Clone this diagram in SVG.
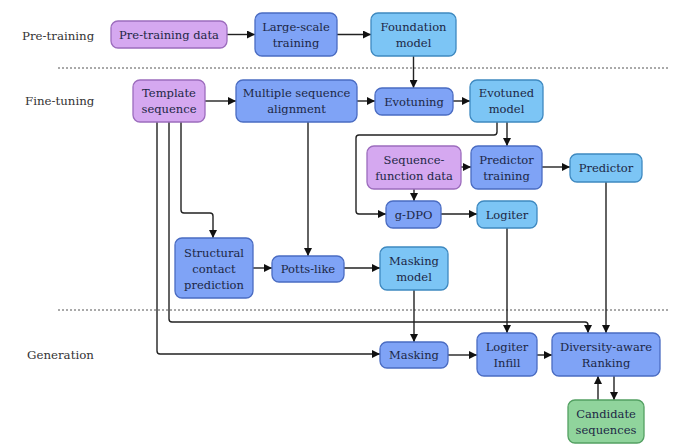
<svg xmlns="http://www.w3.org/2000/svg" width="680" height="445" viewBox="0 0 680 445">
<defs>
<marker id="ah" viewBox="0 0 10 10" refX="10" refY="5" markerWidth="9" markerHeight="8" markerUnits="userSpaceOnUse" orient="auto">
<path d="M0,0 L10,5 L0,10 z" fill="#111"/>
</marker>
<style>
rect { stroke-width: 1.3; }
.purple { fill: #d5a8f0; stroke: #9c6cbd; }
.blue { fill: #7fa3f6; stroke: #4a6cc2; }
.lblue { fill: #7cc5f5; stroke: #3e89c0; }
.green { fill: #90d49c; stroke: #53a062; }
.t { font-family: "DejaVu Serif", "Liberation Serif", serif; font-size: 11.5px; fill: #1c2745; text-anchor: middle; }
.lab { font-family: "DejaVu Serif", "Liberation Serif", serif; font-size: 11.8px; fill: #333; }
.c { fill: none; stroke: #222; stroke-width: 1.4; marker-end: url(#ah); }
.sep { stroke: #555; stroke-width: 1; stroke-dasharray: 2 2; }
</style>
</defs>
<rect width="680" height="445" fill="#fff"/>

<g id="labels">
<text class="lab" x="22" y="40">Pre-training</text>
<text class="lab" x="25" y="105">Fine-tuning</text>
<text class="lab" x="27" y="359">Generation</text>
<line class="sep" x1="58" y1="68" x2="670" y2="68"/>
<line class="sep" x1="58" y1="310" x2="670" y2="310"/>
</g>

<g id="connectors">
<path class="c" d="M227,34.5 H255"/>
<path class="c" d="M337,34.5 H371"/>
<path class="c" d="M413.5,56 V88"/>
<path class="c" d="M205,101 H236"/>
<path class="c" d="M357,101 H375"/>
<path class="c" d="M453,101 H470"/>
<path class="c" d="M507,122 V146"/>
<path class="c" d="M497,122 V132 Q497,135 494,135 H359 Q356,135 356,138 V211 Q356,214 359,214 H386"/>
<path class="c" d="M461,167 H471"/>
<path class="c" d="M414,189 V201"/>
<path class="c" d="M542,167 H570"/>
<path class="c" d="M441,214 H477"/>
<path class="c" d="M181,122 V210 Q181,213 184,213 H210 Q213,213 213,216 V238"/>
<path class="c" d="M308,122 V256"/>
<path class="c" d="M253,268 H272"/>
<path class="c" d="M344,268 H380"/>
<path class="c" d="M414,290 V342"/>
<path class="c" d="M169,122 V319 Q169,322 172,322 H585 Q588,322 588,325 V333"/>
<path class="c" d="M157,122 V351 Q157,354 160,354 H380"/>
<path class="c" d="M448,355 H477"/>
<path class="c" d="M507,228 V333"/>
<path class="c" d="M537,355 H552"/>
<path class="c" d="M606,182 V333"/>
<path class="c" d="M614,376 V400"/>
<path class="c" d="M598,400 V376"/>
</g>

<g id="pretrain_data"><rect class="purple" x="111" y="21" width="116" height="27" rx="7"/><text class="t" x="169" y="38.5">Pre-training data</text></g>
<g id="large_scale"><rect class="blue" x="255" y="13" width="82" height="43" rx="7"/><text class="t" x="296" y="31">Large-scale</text><text class="t" x="296" y="47">training</text></g>
<g id="foundation"><rect class="lblue" x="371" y="13" width="85" height="43" rx="7"/><text class="t" x="413.5" y="31">Foundation</text><text class="t" x="413.5" y="47">model</text></g>
<g id="template"><rect class="purple" x="133" y="80" width="72" height="42" rx="7"/><text class="t" x="169" y="97">Template</text><text class="t" x="169" y="113">sequence</text></g>
<g id="msa"><rect class="blue" x="236" y="80" width="121" height="42" rx="7"/><text class="t" x="296.5" y="97">Multiple sequence</text><text class="t" x="296.5" y="113">alignment</text></g>
<g id="evotuning"><rect class="blue" x="375" y="88" width="78" height="27" rx="7"/><text class="t" x="414" y="105.5">Evotuning</text></g>
<g id="evotuned"><rect class="lblue" x="470" y="80" width="73" height="42" rx="7"/><text class="t" x="506.5" y="97">Evotuned</text><text class="t" x="506.5" y="113">model</text></g>
<g id="seqfunc"><rect class="purple" x="367" y="146" width="94" height="43" rx="7"/><text class="t" x="414" y="164">Sequence-</text><text class="t" x="414" y="180">function data</text></g>
<g id="predtrain"><rect class="blue" x="471" y="146" width="71" height="43" rx="7"/><text class="t" x="506.5" y="164">Predictor</text><text class="t" x="506.5" y="180">training</text></g>
<g id="predictor"><rect class="lblue" x="570" y="154" width="72" height="28" rx="7"/><text class="t" x="606" y="172">Predictor</text></g>
<g id="gdpo"><rect class="blue" x="386" y="201" width="55" height="27" rx="7"/><text class="t" x="413.5" y="218.5">g-DPO</text></g>
<g id="logiter"><rect class="lblue" x="477" y="201" width="60" height="27" rx="7"/><text class="t" x="507" y="218.5">Logiter</text></g>
<g id="structural"><rect class="blue" x="175" y="238" width="78" height="60" rx="7"/><text class="t" x="214" y="257">Structural</text><text class="t" x="214" y="273">contact</text><text class="t" x="214" y="289">prediction</text></g>
<g id="potts"><rect class="blue" x="272" y="256" width="72" height="26" rx="7"/><text class="t" x="308" y="273">Potts-like</text></g>
<g id="maskmodel"><rect class="lblue" x="380" y="247" width="68" height="43" rx="7"/><text class="t" x="414" y="265">Masking</text><text class="t" x="414" y="281">model</text></g>
<g id="masking"><rect class="blue" x="380" y="342" width="68" height="26" rx="7"/><text class="t" x="414" y="359">Masking</text></g>
<g id="logiter_infill"><rect class="blue" x="477" y="333" width="60" height="43" rx="7"/><text class="t" x="507" y="351">Logiter</text><text class="t" x="507" y="367">Infill</text></g>
<g id="diversity"><rect class="blue" x="552" y="333" width="108" height="43" rx="7"/><text class="t" x="606" y="351">Diversity-aware</text><text class="t" x="606" y="367">Ranking</text></g>
<g id="candidate"><rect class="green" x="568" y="400" width="76" height="43" rx="7"/><text class="t" x="606" y="418">Candidate</text><text class="t" x="606" y="434">sequences</text></g>
</svg>
